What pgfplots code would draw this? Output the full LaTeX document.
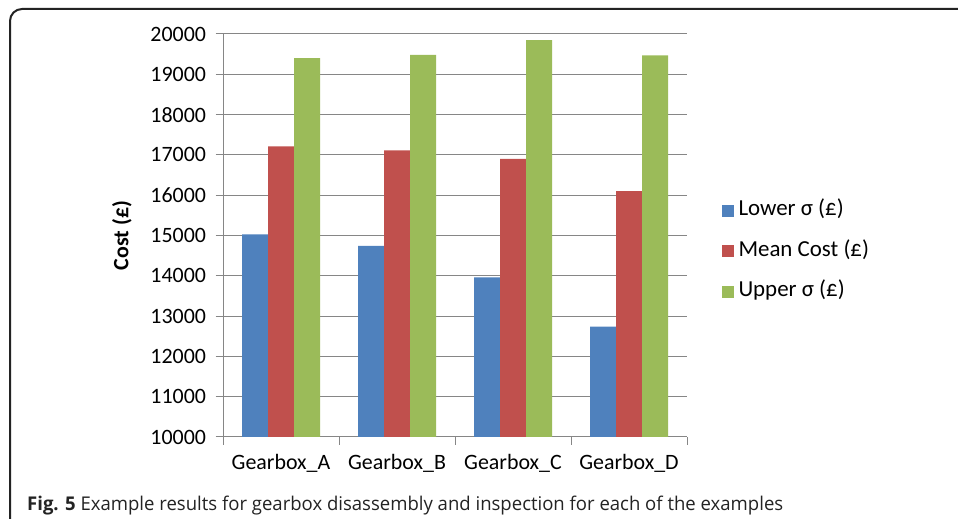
\documentclass[border=0pt]{standalone}
\usepackage{fontspec}
\usepackage{graphicx}
\usepackage{pgfplots}
\pgfplotsset{compat=1.18}
\setmainfont{Carlito}
\newfontfamily\capfont{Open Sans}

\definecolor{xlblue}{HTML}{4F81BD}
\definecolor{xlred}{HTML}{C0504D}
\definecolor{xlgreen}{HTML}{9BBB59}
\definecolor{axgray}{RGB}{134,134,134}
\definecolor{framec}{RGB}{35,35,35}

\newcommand{\chartfont}{\fontsize{22}{26}\selectfont}

\begin{document}
\begin{tikzpicture}
\begin{axis}[
  at={(223bp,82bp)}, anchor=south west,
  scale only axis,
  width=464bp, height=403bp,
  ybar=0pt, bar width=26bp,
  xmin=-0.5, xmax=3.5,
  ymin=10000, ymax=20000,
  ytick distance=1000,
  xtick={-0.5,0.5,1.5,2.5,3.5},
  xticklabels={},
  extra x ticks={0,1,2,3},
  extra x tick labels={Gearbox\_A,Gearbox\_B,Gearbox\_C,Gearbox\_D},
  extra x tick style={major tick length=0pt, xticklabel style={yshift=-14bp}},
  tick align=outside,
  major tick length=7.5bp,
  axis lines*=left,
  axis line style={axgray, line width=1bp},
  every tick/.style={axgray, line width=1bp},
  ymajorgrids,
  grid style={axgray, line width=1bp},
  /pgf/number format/assume math mode=true,
  /pgf/number format/fixed,
  /pgf/number format/1000 sep={},
  scaled y ticks=false,
  tick label style={font=\chartfont, text=black},
  yticklabel style={xshift=-6bp},
  ylabel={\bfseries Cost (£)},
  ylabel style={font=\chartfont, at={(axis description cs:-0.218,0.5)}, anchor=center},
  legend style={
    at={(axis description cs:1.075,0.4615)}, anchor=west,
    draw=none, fill=none, inner sep=0pt,
    font=\fontsize{23}{27}\selectfont,
    row sep=16.5bp,
    nodes={inner xsep=4.5bp, inner ysep=3bp, text height=14bp, text depth=4bp},
  },
  legend cell align=left,
  legend image code/.code={\fill[#1,draw=none] (0bp,-6bp) rectangle (12bp,6bp);},
]
\addplot[fill=xlblue, draw=none] coordinates {(0,15030) (1,14740) (2,13960) (3,12740)};
\addplot[fill=xlred, draw=none] coordinates {(0,17210) (1,17110) (2,16900) (3,16100)};
\addplot[fill=xlgreen, draw=none] coordinates {(0,19400) (1,19480) (2,19850) (3,19470)};
\legend{Lower σ (£), Mean Cost (£), Upper σ (£)}
\end{axis}
\draw[framec, line width=2bp, rounded corners=12bp] (10bp,-30bp) -- (10bp,510bp) -- (990bp,510bp);
\node[anchor=base west, inner sep=0pt, text=framec] at (27bp,9bp)
  {\resizebox{756bp}{\height}{\capfont\fontsize{19}{22}\selectfont\textbf{Fig. 5} Example results for gearbox disassembly and inspection for each of the examples}};
\pgfresetboundingbox
\useasboundingbox (0bp,0bp) rectangle (958bp,519bp);
\end{tikzpicture}
\end{document}
